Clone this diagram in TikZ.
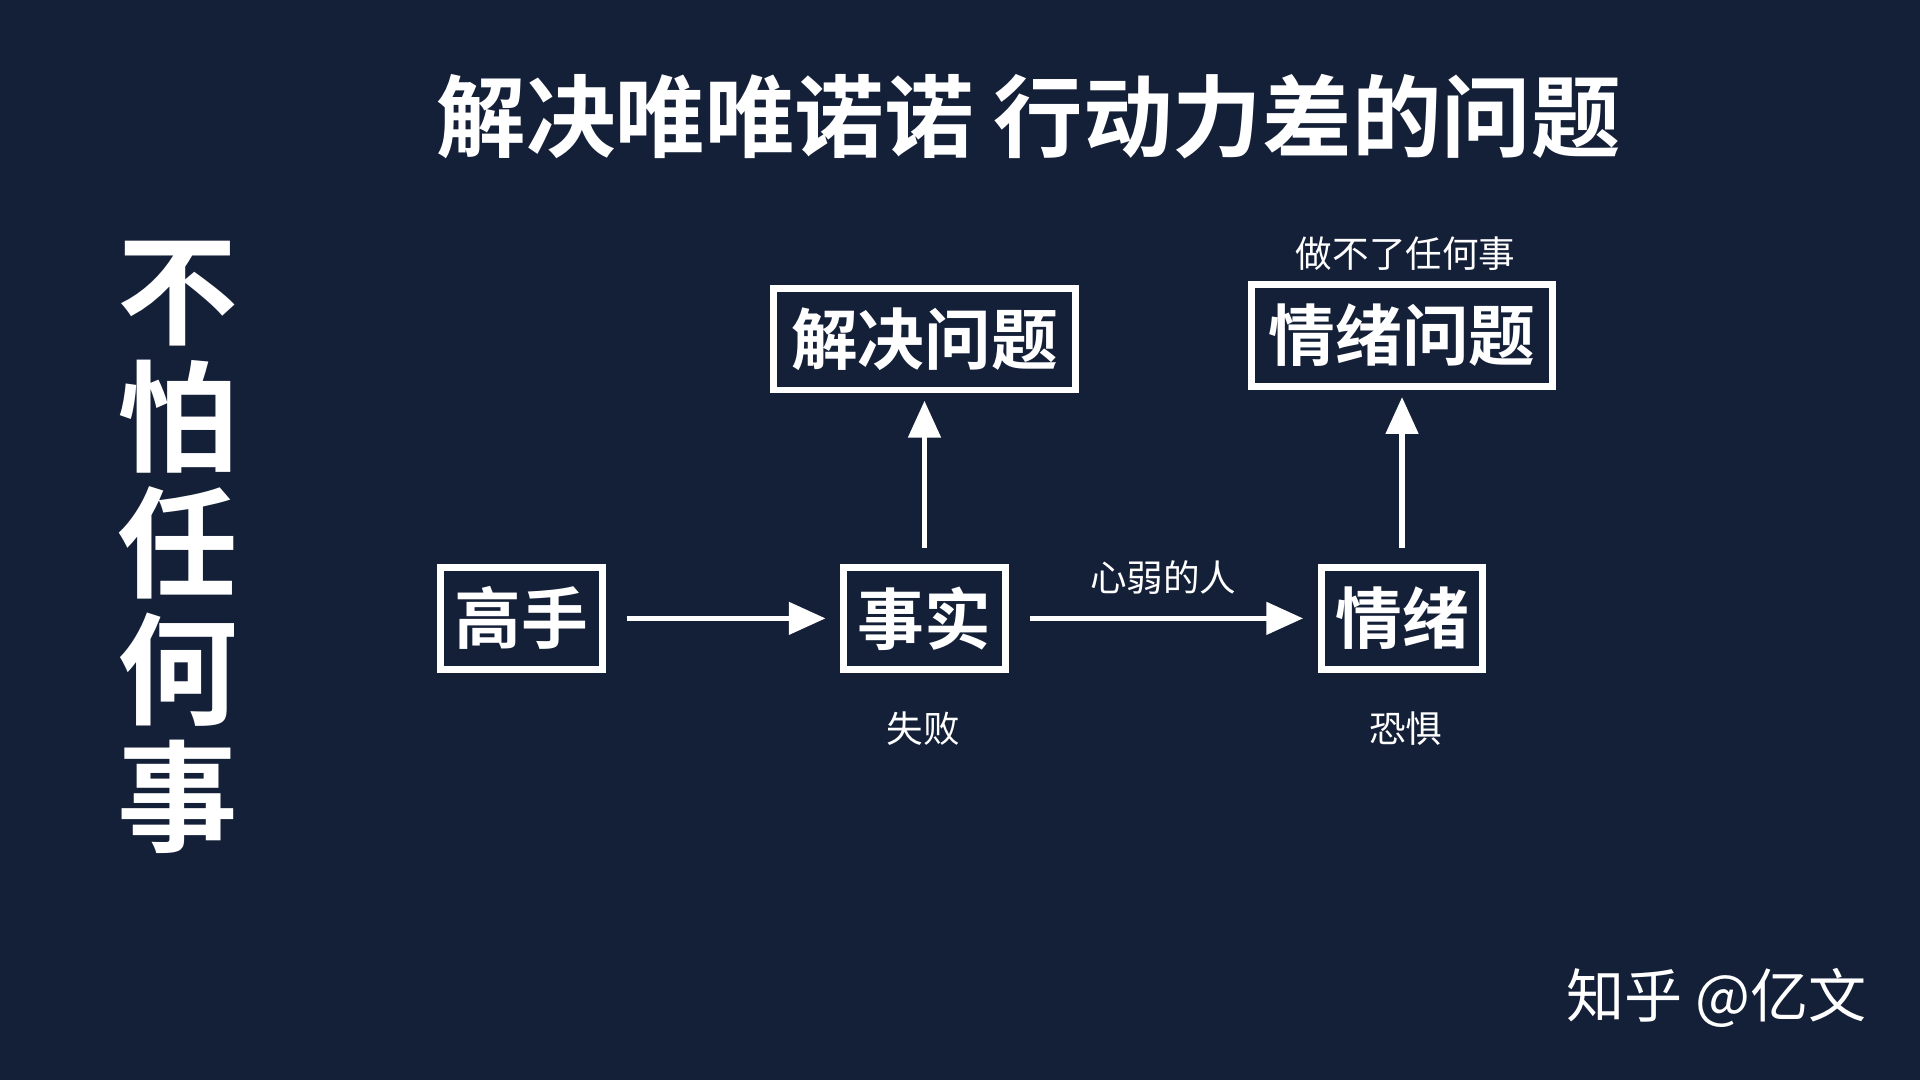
\documentclass[tikz,border=0pt]{standalone}
\usepackage{fontspec}
\setmainfont{Noto Sans CJK SC}
\newfontfamily\heavy{Noto Sans CJK SC Bold}
\usetikzlibrary{arrows.meta}
\definecolor{navy}{HTML}{141F38}
\tikzset{
  chalkbox/.style={draw=white, line width=1.6pt, text=white, font=\heavy\fontsize{15.5}{15.5}\selectfont, minimum height=8.3mm, inner sep=0pt},
  note/.style={text=white, font=\fontsize{8.5}{9}\selectfont},
  arrow/.style={draw=white, line width=1.2pt, -{Triangle[length=3mm,width=2.6mm]}}
}
\begin{document}
\begin{tikzpicture}[x=0.1mm, y=-0.1mm]
  \fill[navy] (0,0) rectangle (1568,882);
  % title and side text
  \node [text=white, font=\heavy\fontsize{20.8}{20.8}\selectfont] (title) at (840,95) {解决唯唯诺诺 行动力差的问题};
  \node [text=white, font=\heavy\fontsize{28}{29.5}\selectfont, align=center] (side) at (145,447) {不\\怕\\任\\何\\事};
  % boxes
  \node [chalkbox, minimum width=13.2mm] at (426,505) (master) {高手};
  \node [chalkbox, minimum width=13.2mm] at (755,505) (fact) {事实};
  \node [chalkbox, minimum width=13.2mm] at (1145,505) (emotion) {情绪};
  \node [chalkbox, minimum width=24.6mm] at (755,277) (solve) {解决问题};
  \node [chalkbox, minimum width=24.6mm] at (1145,274) (emoprob) {情绪问题};
  % notes
  \node [note] at (754,595) (fail) {失败};
  \node [note] at (1148,595) (fear) {恐惧};
  \node [note] at (1148,207) (nothing) {做不了任何事};
  \node [text=white, font=\fontsize{13.5}{14}\selectfont] at (1402,815) (mark) {知乎 @亿文};
  % arrows
  \draw [arrow, shorten <=1.7mm, shorten >=1.2mm] (master) -- (fact);
  \draw [arrow, shorten <=1.7mm, shorten >=1.2mm] (fact) -- node[note, anchor=south, yshift=0.6mm] {心弱的人} (emotion);
  \draw [arrow, shorten <=1.3mm, shorten >=0.6mm] (fact) -- (solve);
  \draw [arrow, shorten <=1.3mm, shorten >=0.6mm] (emotion) -- (emoprob);
\end{tikzpicture}
\end{document}
